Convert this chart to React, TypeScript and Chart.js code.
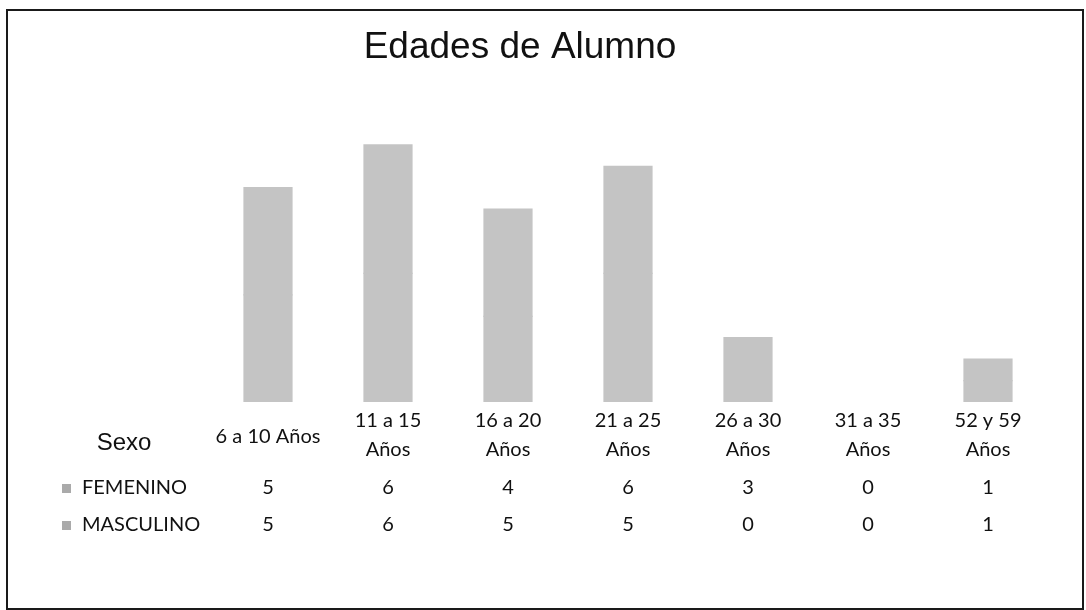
import React, { useEffect, useRef } from "react";
import { Chart, registerables } from "chart.js";

Chart.register(...registerables);

const TITLE = "Edades de Alumno";
const TABLE_HEADER = "Sexo";
const CATEGORIES: string[][] = [
  ["6 a 10 Años"],
  ["11 a 15", "Años"],
  ["16 a 20", "Años"],
  ["21 a 25", "Años"],
  ["26 a 30", "Años"],
  ["31 a 35", "Años"],
  ["52 y 59", "Años"],
];
const SERIES_NAMES = ["FEMENINO", "MASCULINO"];
const FEMENINO = [5, 6, 4, 6, 3, 0, 1];
const MASCULINO = [5, 6, 5, 5, 0, 0, 1];
const Y_MAX = 14;

const COLORS = ["#c4c4c4", "#c4c4c4"];
const TABLE_FONT = "Lato, 'Open Sans', sans-serif";
const TITLE_FONT = "'Liberation Sans', Arial, sans-serif";

const inflate = (c: any) => (c.raw === 0 ? 0 : 0.6);

const tablePlugin = {
  id: "dataTable",
  beforeDraw(chart: any) {
    const ctx = chart.ctx;
    ctx.save();
    ctx.fillStyle = "#ffffff";
    ctx.fillRect(0, 0, chart.width, chart.height);
    ctx.strokeStyle = "#1a1a1a";
    ctx.lineWidth = 2;
    ctx.strokeRect(7, 10, chart.width - 10, chart.height - 11);
    ctx.restore();
  },
  afterDraw(chart: any) {
    const ctx = chart.ctx;
    const xs = chart.scales.x;
    const bottom = chart.chartArea.bottom;
    ctx.save();
    ctx.fillStyle = "#111111";
    ctx.textAlign = "center";
    ctx.textBaseline = "middle";

    ctx.font = `37px ${TITLE_FONT}`;
    ctx.fillText(TITLE, chart.width / 2 - 23, 48);

    ctx.font = `20px ${TABLE_FONT}`;
    CATEGORIES.forEach((lines, i) => {
      const x = xs.getPixelForValue(i);
      if (lines.length === 1) {
        ctx.fillText(lines[0], x, bottom + 35);
      } else {
        ctx.fillText(lines[0], x, bottom + 19);
        ctx.fillText(lines[1], x, bottom + 48);
      }
    });
    const rows = [FEMENINO, MASCULINO];
    rows.forEach((vals, r) => {
      const y = bottom + 86 + r * 37;
      vals.forEach((v, i) => {
        ctx.fillText(String(v), xs.getPixelForValue(i), y);
      });
      ctx.textAlign = "left";
      ctx.fillText(SERIES_NAMES[r], 82, y);
      ctx.fillStyle = "#aaaaaa";
      ctx.fillRect(62, y - 4, 9, 9);
      ctx.fillStyle = "#111111";
      ctx.textAlign = "center";
    });
    ctx.font = `24px ${TITLE_FONT}`;
    ctx.fillText(TABLE_HEADER, 124, bottom + 41);
    ctx.restore();
  },
};

export default function App() {
  const ref = useRef<HTMLCanvasElement>(null);
  useEffect(() => {
    if (!ref.current) return;
    const chart = new Chart(ref.current, {
      type: "bar",
      data: {
        labels: CATEGORIES.map((l) => l.join(" ")),
        datasets: [
          {
            label: SERIES_NAMES[0],
            data: FEMENINO,
            backgroundColor: COLORS[0],
            borderWidth: 0,
            inflateAmount: inflate,
            barPercentage: 0.4,
            categoryPercentage: 1,
          },
          {
            label: SERIES_NAMES[1],
            data: MASCULINO,
            backgroundColor: COLORS[1],
            borderWidth: 0,
            inflateAmount: inflate,
            barPercentage: 0.4,
            categoryPercentage: 1,
          },
        ],
      },
      options: {
        animation: false,
        responsive: false,
        layout: { padding: { left: 208, right: 38, top: 102, bottom: 208 } },
        plugins: {
          legend: { display: false },
          tooltip: { enabled: false },
          title: { display: false },
        },
        scales: {
          x: { stacked: true, display: false, offset: true },
          y: { stacked: true, display: false, min: 0, max: Y_MAX },
        },
      },
      plugins: [tablePlugin],
    });
    return () => chart.destroy();
  }, []);
  return (
    <div style={{ position: "absolute", left: 0, top: 0, width: 1086, height: 610 }}>
      <canvas ref={ref} width={1086} height={610} style={{ display: "block" }} />
    </div>
  );
}
